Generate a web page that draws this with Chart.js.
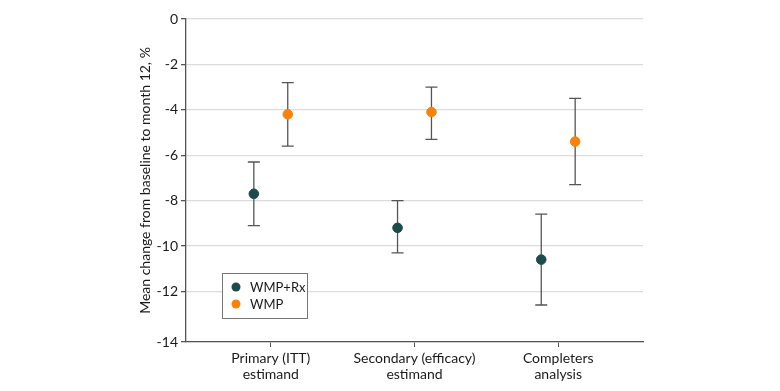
<!DOCTYPE html>
<html>
<head>
<meta charset="utf-8">
<script src="https://cdn.jsdelivr.net/npm/chart.js@4.4.0/dist/chart.umd.min.js"></script>
<style>
  html, body { margin: 0; padding: 0; background: #fff; }
  #wrap { width: 780px; height: 391px; }
</style>
</head>
<body>
<div id="wrap"><canvas id="chart" width="780" height="391"></canvas></div>
<script>
// Dados do gráfico
const categories = [['Primary (ITT)', 'estimand'], ['Secondary (efficacy)', 'estimand'], ['Completers', 'analysis']];
const seriesNames = ['WMP+Rx', 'WMP'];

const wmpRxMean = [-7.7, -9.2, -10.6];
const wmpRxLow  = [-9.1, -10.3, -12.6];
const wmpRxHigh = [-6.3, -8.0, -8.6];

const wmpMean = [-4.2, -4.1, -5.4];
const wmpLow  = [-5.6, -5.3, -7.3];
const wmpHigh = [-2.8, -3.0, -3.5];

const yTicks = [0, -2, -4, -6, -8, -10, -12, -14];
const yTitle = 'Mean change from baseline to month 12, %';

// estilo
const colors = ['#1d4b4a', '#f7830f'];
const dodge = 0.118;
const yMin = -14.23; // eixo x fica um pouco abaixo de -14 no original
const FONT = 'Lato';
const TEXT = '#1a1a1a';

function points(means, shift) {
  return means.map((v, i) => ({ x: i + 1 + shift, y: v }));
}

const lows = [wmpRxLow, wmpLow];
const highs = [wmpRxHigh, wmpHigh];

// barras de erro desenhadas com as escalas do Chart.js
const errorBars = {
  id: 'errorBars',
  beforeDatasetsDraw(chart) {
    const ctx = chart.ctx;
    const yScale = chart.scales.y;
    ctx.save();
    ctx.strokeStyle = '#555';
    ctx.lineWidth = 1.3;
    chart.data.datasets.forEach((ds, d) => {
      const meta = chart.getDatasetMeta(d);
      meta.data.forEach((pt, i) => {
        const x = pt.x;
        const y1 = yScale.getPixelForValue(lows[d][i]);
        const y2 = yScale.getPixelForValue(highs[d][i]);
        ctx.beginPath();
        ctx.moveTo(x, y1); ctx.lineTo(x, y2);
        ctx.moveTo(x - 6, y1); ctx.lineTo(x + 6, y1);
        ctx.moveTo(x - 6, y2); ctx.lineTo(x + 6, y2);
        ctx.stroke();
      });
    });
    ctx.restore();
  }
};

// legenda dentro da área do gráfico
const boxLegend = {
  id: 'boxLegend',
  afterDraw(chart) {
    const ctx = chart.ctx;
    const area = chart.chartArea;
    const bx = area.left + 36, by = area.bottom - 69, bw = 85, bh = 45;
    ctx.save();
    ctx.fillStyle = '#fff';
    ctx.fillRect(bx, by, bw, bh);
    ctx.strokeStyle = '#777';
    ctx.lineWidth = 1;
    ctx.strokeRect(bx + 0.5, by + 0.5, bw, bh);
    ctx.font = '13px ' + FONT;
    ctx.textBaseline = 'middle';
    seriesNames.forEach((name, i) => {
      const cy = by + 14 + i * 17;
      ctx.fillStyle = colors[i];
      ctx.beginPath();
      ctx.arc(bx + 14, cy, 4.5, 0, Math.PI * 2);
      ctx.fill();
      ctx.fillStyle = TEXT;
      ctx.fillText(name, bx + 28, cy + 1);
    });
    ctx.restore();
  }
};

new Chart(document.getElementById('chart'), {
  type: 'scatter',
  data: {
    datasets: [
      { label: seriesNames[0], data: points(wmpRxMean, -dodge), backgroundColor: colors[0], borderColor: colors[0], pointRadius: 4.8, pointHoverRadius: 4.8 },
      { label: seriesNames[1], data: points(wmpMean, dodge), backgroundColor: colors[1], borderColor: colors[1], pointRadius: 4.8, pointHoverRadius: 4.8 }
    ]
  },
  options: {
    responsive: false,
    animation: false,
    layout: { padding: { left: 137, right: 137, top: 19, bottom: 0 } },
    plugins: { legend: { display: false }, tooltip: { enabled: false } },
    scales: {
      x: {
        type: 'linear',
        min: 0.41,
        max: 3.59,
        afterBuildTicks: (s) => { s.ticks = categories.map((c, i) => ({ value: i + 1 })); },
        afterFit: (s) => { s.height = 49; },
        ticks: {
          callback: (v) => categories[v - 1],
          color: TEXT,
          font: { family: FONT, size: 14, lineHeight: 1.1 },
          padding: 4,
          maxRotation: 0,
          autoSkip: false
        },
        grid: { drawOnChartArea: false, tickLength: 5, tickColor: '#555' },
        border: { color: '#555', width: 1.3 }
      },
      y: {
        min: yMin,
        max: 0,
        afterBuildTicks: (s) => { s.ticks = yTicks.map(v => ({ value: v === -14 ? yMin : v })); },
        afterFit: (s) => { s.width = 49; },
        ticks: {
          callback: (v) => (v < -14 ? '-14' : String(v)),
          color: TEXT,
          font: { family: FONT, size: 14 },
          padding: 3
        },
        grid: { color: '#dcdcdc', lineWidth: 1.3, tickLength: 5, tickColor: '#555' },
        border: { color: '#555', width: 1.3 },
        title: {
          display: true,
          text: yTitle,
          color: TEXT,
          font: { family: FONT, size: 14 },
          padding: { top: 0, bottom: 0 }
        }
      }
    }
  },
  plugins: [errorBars, boxLegend]
});
</script>
</body>
</html>
